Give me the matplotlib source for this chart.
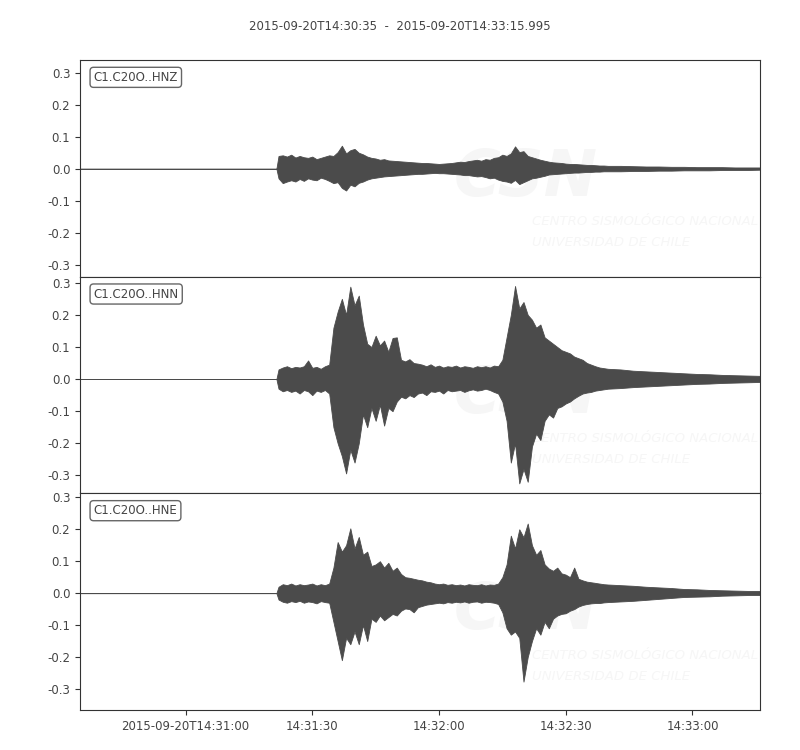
import datetime as dt
import numpy as np
import matplotlib
matplotlib.use("Agg")
import matplotlib.pyplot as plt
import matplotlib.dates as mdates

# seconds after 2015-09-20T14:30:35
t = [0, 46.5] + list(range(47, 126)) + list(range(128, 162, 3))

# amplitude envelopes (upper / lower), same grid as t
hnz_hi = [0, 0,
          0.040, 0.042, 0.038, 0.044, 0.035, 0.040, 0.036, 0.034, 0.038, 0.030,
          0.034, 0.038, 0.042, 0.040, 0.052, 0.072, 0.048, 0.058, 0.062, 0.050,
          0.045, 0.038, 0.034, 0.032, 0.028, 0.030, 0.026, 0.025, 0.024, 0.023,
          0.022, 0.021, 0.020, 0.019, 0.018, 0.018, 0.017, 0.016, 0.015, 0.016,
          0.017, 0.018, 0.020, 0.022, 0.021, 0.024, 0.026, 0.028, 0.025, 0.030,
          0.028, 0.034, 0.036, 0.044, 0.040, 0.048, 0.070, 0.052, 0.055, 0.040,
          0.036, 0.032, 0.028, 0.025, 0.022, 0.020, 0.019, 0.018, 0.016, 0.015,
          0.015, 0.014, 0.013, 0.012, 0.012, 0.011, 0.010, 0.010, 0.009,
          0.009, 0.008, 0.007, 0.007, 0.006, 0.006, 0.005, 0.005, 0.005, 0.004, 0.004, 0.004]
hnz_lo = [0, 0,
          -0.030, -0.045, -0.040, -0.036, -0.040, -0.032, -0.038, -0.030, -0.034, -0.036,
          -0.028, -0.032, -0.038, -0.045, -0.042, -0.060, -0.068, -0.050, -0.055, -0.044,
          -0.040, -0.034, -0.030, -0.028, -0.026, -0.024, -0.023, -0.022, -0.021, -0.020,
          -0.019, -0.018, -0.017, -0.016, -0.016, -0.015, -0.014, -0.013, -0.014, -0.014,
          -0.015, -0.016, -0.017, -0.018, -0.020, -0.020, -0.022, -0.024, -0.023, -0.026,
          -0.030, -0.028, -0.034, -0.038, -0.040, -0.044, -0.035, -0.048, -0.042, -0.036,
          -0.030, -0.028, -0.025, -0.022, -0.018, -0.017, -0.016, -0.015, -0.014, -0.013,
          -0.012, -0.012, -0.011, -0.010, -0.010, -0.009, -0.009, -0.008, -0.008,
          -0.008, -0.007, -0.007, -0.006, -0.006, -0.005, -0.005, -0.005, -0.004, -0.004, -0.004, -0.003]

hnn_hi = [0, 0,
          0.030, 0.036, 0.040, 0.034, 0.038, 0.036, 0.040, 0.058, 0.035, 0.038,
          0.032, 0.040, 0.045, 0.160, 0.210, 0.250, 0.200, 0.288, 0.230, 0.260,
          0.170, 0.110, 0.100, 0.135, 0.105, 0.120, 0.085, 0.128, 0.130, 0.060,
          0.055, 0.062, 0.050, 0.048, 0.045, 0.040, 0.046, 0.038, 0.042, 0.036,
          0.040, 0.038, 0.042, 0.036, 0.040, 0.038, 0.035, 0.040, 0.037, 0.040,
          0.036, 0.042, 0.040, 0.060, 0.130, 0.200, 0.290, 0.220, 0.240, 0.200,
          0.185, 0.160, 0.170, 0.130, 0.120, 0.110, 0.100, 0.090, 0.085, 0.080,
          0.070, 0.065, 0.060, 0.050, 0.045, 0.040, 0.036, 0.034, 0.032,
          0.030, 0.026, 0.024, 0.022, 0.020, 0.018, 0.016, 0.015, 0.013, 0.012, 0.011, 0.010]
hnn_lo = [0, 0,
          -0.030, -0.038, -0.034, -0.040, -0.036, -0.045, -0.034, -0.038, -0.050, -0.036,
          -0.040, -0.034, -0.045, -0.150, -0.200, -0.240, -0.294, -0.220, -0.260, -0.200,
          -0.110, -0.150, -0.090, -0.130, -0.080, -0.145, -0.090, -0.100, -0.070, -0.055,
          -0.060, -0.050, -0.056, -0.045, -0.042, -0.050, -0.038, -0.040, -0.036, -0.045,
          -0.034, -0.038, -0.036, -0.034, -0.040, -0.035, -0.032, -0.036, -0.034, -0.030,
          -0.034, -0.040, -0.045, -0.070, -0.130, -0.260, -0.200, -0.325, -0.280, -0.320,
          -0.210, -0.170, -0.190, -0.130, -0.110, -0.120, -0.090, -0.085, -0.076, -0.070,
          -0.060, -0.052, -0.045, -0.042, -0.040, -0.036, -0.034, -0.032, -0.030,
          -0.028, -0.025, -0.023, -0.021, -0.019, -0.017, -0.015, -0.014, -0.012, -0.011, -0.010, -0.009]

hne_hi = [0, 0,
          0.020, 0.028, 0.025, 0.030, 0.024, 0.028, 0.025, 0.027, 0.030, 0.024,
          0.028, 0.025, 0.030, 0.080, 0.160, 0.130, 0.150, 0.203, 0.140, 0.176,
          0.120, 0.130, 0.085, 0.090, 0.100, 0.080, 0.095, 0.070, 0.080, 0.060,
          0.050, 0.048, 0.045, 0.042, 0.040, 0.036, 0.034, 0.030, 0.028, 0.030,
          0.026, 0.028, 0.025, 0.027, 0.024, 0.028, 0.026, 0.025, 0.028, 0.024,
          0.027, 0.026, 0.030, 0.050, 0.090, 0.180, 0.140, 0.200, 0.175, 0.218,
          0.150, 0.120, 0.135, 0.090, 0.077, 0.070, 0.080, 0.062, 0.058, 0.050,
          0.080, 0.045, 0.040, 0.036, 0.034, 0.032, 0.030, 0.028, 0.027,
          0.025, 0.023, 0.020, 0.018, 0.016, 0.013, 0.012, 0.010, 0.009, 0.008, 0.007, 0.007]
hne_lo = [0, 0,
          -0.020, -0.027, -0.030, -0.025, -0.028, -0.024, -0.030, -0.026, -0.028, -0.032,
          -0.025, -0.028, -0.030, -0.090, -0.150, -0.210, -0.140, -0.160, -0.120, -0.160,
          -0.100, -0.150, -0.080, -0.090, -0.070, -0.085, -0.075, -0.065, -0.070, -0.055,
          -0.048, -0.050, -0.060, -0.044, -0.040, -0.036, -0.034, -0.032, -0.030, -0.032,
          -0.028, -0.030, -0.027, -0.029, -0.026, -0.030, -0.027, -0.026, -0.030, -0.027,
          -0.028, -0.030, -0.034, -0.060, -0.110, -0.130, -0.120, -0.140, -0.277, -0.200,
          -0.150, -0.110, -0.130, -0.090, -0.110, -0.080, -0.070, -0.065, -0.063, -0.055,
          -0.050, -0.042, -0.037, -0.034, -0.032, -0.031, -0.031, -0.029, -0.028,
          -0.026, -0.024, -0.021, -0.018, -0.015, -0.012, -0.011, -0.010, -0.008, -0.007, -0.006, -0.006]

channels = ['C1.C20O..HNZ', 'C1.C20O..HNN', 'C1.C20O..HNE']
highs = [hnz_hi, hnn_hi, hne_hi]
lows = [hnz_lo, hnn_lo, hne_lo]
ylims = [(-0.3375, 0.34), (-0.356, 0.319), (-0.366, 0.3125)]
yticks = [-0.3, -0.2, -0.1, 0.0, 0.1, 0.2, 0.3]

start = dt.datetime(2015, 9, 20, 14, 30, 35)
end = start + dt.timedelta(seconds=160.995)
tick_times = [dt.datetime(2015, 9, 20, 14, 31, 0) + dt.timedelta(seconds=30 * i) for i in range(5)]
tick_labels = ['2015-09-20T14:31:00', '14:31:30', '14:32:00', '14:32:30', '14:33:00']
title = '2015-09-20T14:30:35  -  2015-09-20T14:33:15.995'

trace_col = '#4b4b4b'
text_col = '#444444'
wm_col = '#f6f6f6'
plt.rcParams['font.size'] = 8.5

times = mdates.date2num([start + dt.timedelta(seconds=s) for s in t])

fig, axes = plt.subplots(3, 1, figsize=(8, 7.5), dpi=100, sharex=True,
                         gridspec_kw={'hspace': 0})
fig.subplots_adjust(left=0.1, right=0.95, top=0.92, bottom=0.0533)

for ax, name, hi, lo, yl in zip(axes, channels, highs, lows, ylims):
    # faint CSN watermark
    ax.text(0.655, 0.455, 'CSN', transform=ax.transAxes, fontsize=46, fontweight='bold',
            style='italic', color=wm_col, ha='center', va='center', zorder=0, clip_on=True)
    ax.text(0.665, 0.253, 'CENTRO SISMOLÓGICO NACIONAL', transform=ax.transAxes,
            fontsize=9.5, style='italic', color=wm_col, va='center', zorder=0, clip_on=True)
    ax.text(0.665, 0.157, 'UNIVERSIDAD DE CHILE', transform=ax.transAxes,
            fontsize=9.5, style='italic', color=wm_col, va='center', zorder=0, clip_on=True)

    ax.fill_between(times, lo, hi, color=trace_col, lw=0.6, zorder=2)

    ax.set_ylim(*yl)
    ax.set_yticks(yticks)
    ax.set_yticklabels(['%.1f' % v for v in yticks])
    ax.text(0.02, 0.95, name, transform=ax.transAxes, va='top', ha='left',
            color=text_col, zorder=5,
            bbox=dict(boxstyle='round,pad=0.3', fc='white', ec='#666666', lw=1))
    for sp in ax.spines.values():
        sp.set_color('#333333')
    ax.tick_params(colors='#333333', labelcolor=text_col)

axes[-1].set_xlim(mdates.date2num(start), mdates.date2num(end))
axes[-1].set_xticks(mdates.date2num(tick_times))
axes[-1].set_xticklabels(tick_labels)

fig.suptitle(title, y=0.974, fontsize=8.5, color=text_col)

fig.savefig('out.png', dpi=100)
